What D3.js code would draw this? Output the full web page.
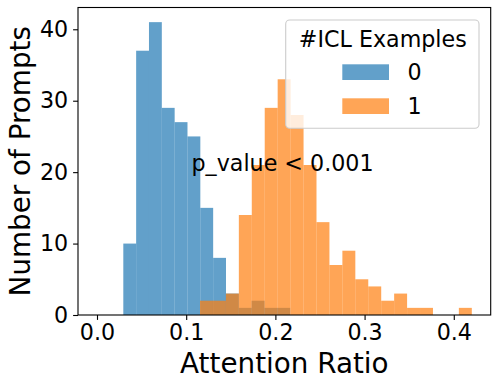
<!DOCTYPE html>
<html>
<head>
<meta charset="utf-8">
<script src="https://cdn.jsdelivr.net/npm/d3@7"></script>
<style>
  body { margin: 0; background: #fff; }
  svg text { font-family: 'DejaVu Sans', sans-serif; fill: #000; }
</style>
</head>
<body>
<div id="chart"></div>
<script>
(function () {
  // histogram counts
  const seriesNames = ['0', '1'];
  const blueCounts = [10, 37, 41, 29, 27, 25, 15, 8, 3, 1, 2, 1, 1];
  const orangeCounts = [2, 2, 3, 14, 21, 29, 33, 28, 21, 13, 7, 9, 5, 4, 2, 3, 1, 1, 0, 0, 1];
  const blueBin = { start: 0.0295, width: 0.01439 };
  const orangeBin = { start: 0.1155, width: 0.01451 };
  const xTicks = [0.0, 0.1, 0.2, 0.3, 0.4];
  const yTicks = [0, 10, 20, 30, 40];

  const W = 499, H = 387;
  const margin = { top: 7.5, right: 8.3, bottom: 72, left: 78 };
  const width = W - margin.left - margin.right,
    height = H - margin.top - margin.bottom;

  const colors = ['#1f77b4', '#ff7f0e'];

  const x = d3.scaleLinear().domain([-0.0213, 0.4414]).range([0, width]);
  const y = d3.scaleLinear().domain([0, 43.05]).range([height, 0]);

  const svg = d3.select('#chart')
    .append('svg')
    .attr('width', W)
    .attr('height', H);

  const g = svg.append('g')
    .attr('transform', `translate(${margin.left},${margin.top})`);

  function bins(counts, bin) {
    return counts.map((c, i) => ({
      x0: bin.start + i * bin.width,
      x1: bin.start + (i + 1) * bin.width,
      count: c
    }));
  }

  const series = [bins(blueCounts, blueBin), bins(orangeCounts, orangeBin)];

  series.forEach(function (data, k) {
    g.append('g')
      .selectAll('rect')
      .data(data.filter(d => d.count > 0))
      .join('rect')
      .attr('x', d => x(d.x0))
      .attr('width', d => x(d.x1) - x(d.x0))
      .attr('y', d => y(d.count))
      .attr('height', d => y(0) - y(d.count))
      .attr('fill', colors[k])
      .attr('fill-opacity', 0.7);
  });

  // axes
  const xAxis = d3.axisBottom(x).tickValues(xTicks).tickFormat(d3.format('.1f'))
    .tickSize(4.9).tickPadding(4.5);
  g.append('g')
    .attr('transform', `translate(0,${height})`)
    .call(xAxis)
    .call(s => s.select('.domain').remove())
    .call(s => s.selectAll('text').style('font-size', '22.2px').attr('dy', '0.71em'))
    .call(s => s.selectAll('line').attr('stroke-width', 1.1));

  const yAxis = d3.axisLeft(y).tickValues(yTicks).tickSize(4.9).tickPadding(4.9);
  g.append('g')
    .call(yAxis)
    .call(s => s.select('.domain').remove())
    .call(s => s.selectAll('text').style('font-size', '22.2px'))
    .call(s => s.selectAll('line').attr('stroke-width', 1.1));

  // frame
  g.append('rect')
    .attr('width', width)
    .attr('height', height)
    .attr('fill', 'none')
    .attr('stroke', '#000')
    .attr('stroke-width', 1.1);

  // annotation
  g.append('text')
    .attr('x', x(0.106))
    .attr('y', y(20.1))
    .style('font-size', '22.2px')
    .text('p_value < 0.001');

  // axis labels
  svg.append('text')
    .attr('x', margin.left + width / 2)
    .attr('y', 373)
    .attr('text-anchor', 'middle')
    .style('font-size', '27.8px')
    .text('Attention Ratio');

  svg.append('text')
    .attr('transform', `translate(29.5,${margin.top + height / 2}) rotate(-90)`)
    .attr('text-anchor', 'middle')
    .style('font-size', '27.8px')
    .text('Number of Prompts');

  // legend
  const lg = svg.append('g');
  lg.append('rect')
    .attr('x', 285.7).attr('y', 20)
    .attr('width', 193.3).attr('height', 108.3)
    .attr('rx', 4)
    .attr('fill', '#fff').attr('fill-opacity', 0.8)
    .attr('stroke', '#cccccc').attr('stroke-width', 1.1);
  lg.append('text')
    .attr('x', 382.8).attr('y', 46.7)
    .attr('text-anchor', 'middle')
    .style('font-size', '22.2px')
    .text('#ICL Examples');
  seriesNames.forEach(function (name, i) {
    const top = 64.3 + i * 34;
    lg.append('rect')
      .attr('x', 342.3).attr('y', top)
      .attr('width', 46.7).attr('height', 15.7)
      .attr('fill', colors[i]).attr('fill-opacity', 0.7);
    lg.append('text')
      .attr('x', 407.5).attr('y', top + 16)
      .style('font-size', '22.2px')
      .text(name);
  });
})();
</script>
</body>
</html>
